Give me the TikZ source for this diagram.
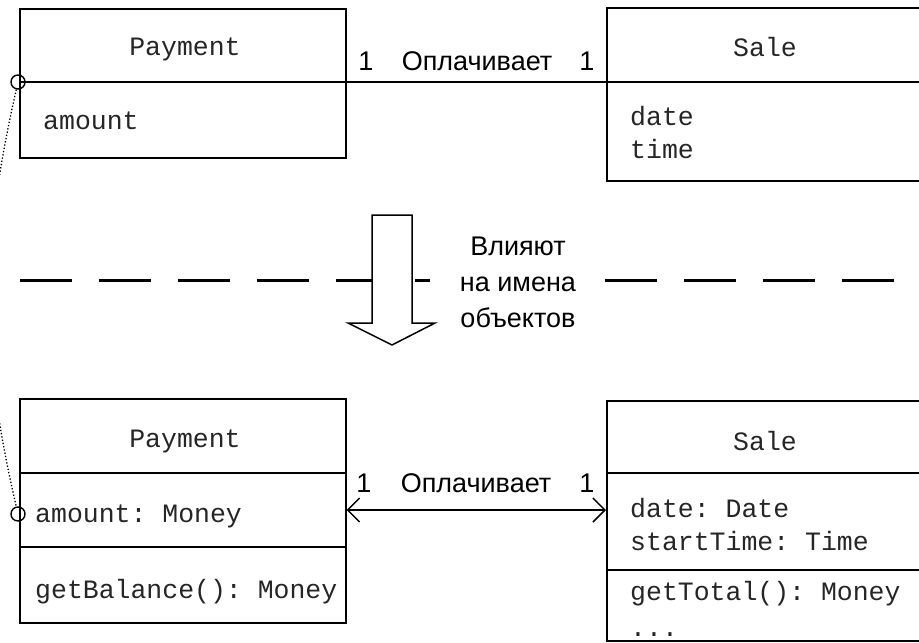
\documentclass[tikz,border=0pt]{standalone}
\usepackage{fontspec}
\setmainfont{Liberation Sans}
\setsansfont{Liberation Sans}
\setmonofont{Liberation Mono}
\usetikzlibrary{calc,arrows.meta}
\definecolor{txt}{HTML}{262626}
\begin{document}
\begin{tikzpicture}[x=1pt,y=-1pt,
  cls/.style={draw, line width=1.6pt, anchor=north west, inner sep=0pt},
  divider/.style={line width=1.6pt},
  mono/.style={font=\ttfamily\fontsize{26.5}{30}\selectfont, inner sep=0pt, text=txt},
  lbl/.style={font=\sffamily\fontsize{27}{30}\selectfont, inner sep=0pt, text=black},
  assoc/.style={line width=1.6pt},
  dashline/.style={line width=3pt, dash pattern=on 52pt off 27pt},
  port/.style={circle, draw, line width=1.4pt, minimum size=14pt, inner sep=0pt}]
\clip (0,0) rectangle (919,643);
\fill[white] (0,0) rectangle (919,643);

% ---------- top: conceptual model ----------
\node[cls, minimum width=326pt, minimum height=149pt] (p1) at (19,8) {};
\node[cls, minimum width=340pt, minimum height=173pt] (s1) at (606,7) {};
\draw[divider] (p1.west |- 0,82) -- (p1.east |- 0,82);
\draw[divider] (s1.west |- 0,82) -- (s1.east |- 0,82);

\node[mono, anchor=base] (p1t) at (185,55) {Payment};
\node[mono, anchor=base west] (p1a) at (43,129) {amount};
\node[mono, anchor=base] (s1t) at (765,56) {Sale};
\node[mono, anchor=base west] (s1a) at (630,125) {date};
\node[mono, anchor=base west] (s1b) at (630,158) {time};

\draw[assoc] (p1.east |- 0,82) -- (s1.west |- 0,82);
\node[lbl, anchor=base] (m1a) at (366,70) {1};
\node[lbl, anchor=base] (m1t) at (477,70) {Оплачивает};
\node[lbl, anchor=base] (m1b) at (587,70) {1};

% ---------- middle ----------
\draw[dashline] (20,280) -- (430,280);
\draw[dashline] (605,280) -- (919,280);
\draw[line width=1.5pt, fill=white, line join=miter]
  (372,215) -- (412,215) -- (412,323) -- (435,323) -- (392,345)
  -- (348,323) -- (372,323) -- cycle;
\node[lbl, align=center, anchor=base, font=\sffamily\fontsize{27}{36}\selectfont] (infl) at (518,327)
  {Влияют\\на имена\\объектов};

% ---------- bottom: design model ----------
\node[cls, minimum width=326pt, minimum height=224pt] (p2) at (19,398) {};
\node[cls, minimum width=340pt, minimum height=240pt] (s2) at (606,400) {};
\draw[divider] (p2.west |- 0,473) -- (p2.east |- 0,473);
\draw[divider] (p2.west |- 0,547) -- (p2.east |- 0,547);
\draw[divider] (s2.west |- 0,473) -- (s2.east |- 0,473);
\draw[divider] (s2.west |- 0,570) -- (s2.east |- 0,570);

\node[mono, anchor=base] (p2t) at (185,447) {Payment};
\node[mono, anchor=base west] (p2a) at (35,522) {amount: Money};
\node[mono, anchor=base west] (p2m) at (35,598) {getBalance(): Money};
\node[mono, anchor=base] (s2t) at (765,450) {Sale};
\node[mono, anchor=base west] (s2a) at (630,517) {date: Date};
\node[mono, anchor=base west] (s2b) at (630,550) {startTime: Time};
\node[mono, anchor=base west] (s2m) at (630,600) {getTotal(): Money};
\node[mono, anchor=base west] (s2d) at (630,636) {...};

\draw[assoc, {Straight Barb[length=12pt,width=24pt,line width=1.5pt]}-{Straight Barb[length=12pt,width=24pt,line width=1.5pt]}]
  (p2.east |- 0,510) -- (s2.west |- 0,510);
\node[lbl, anchor=base] (m2a) at (364,492) {1};
\node[lbl, anchor=base] (m2t) at (476,492) {Оплачивает};
\node[lbl, anchor=base] (m2b) at (587,492) {1};

% ---------- trace link ----------
\node[port] (c1) at (18,82) {};
\node[port] (c2) at (18,514) {};
\draw[dotted, line width=1.3pt] (c1) .. controls (-20,250) and (-20,350) .. (c2);
\end{tikzpicture}
\end{document}
